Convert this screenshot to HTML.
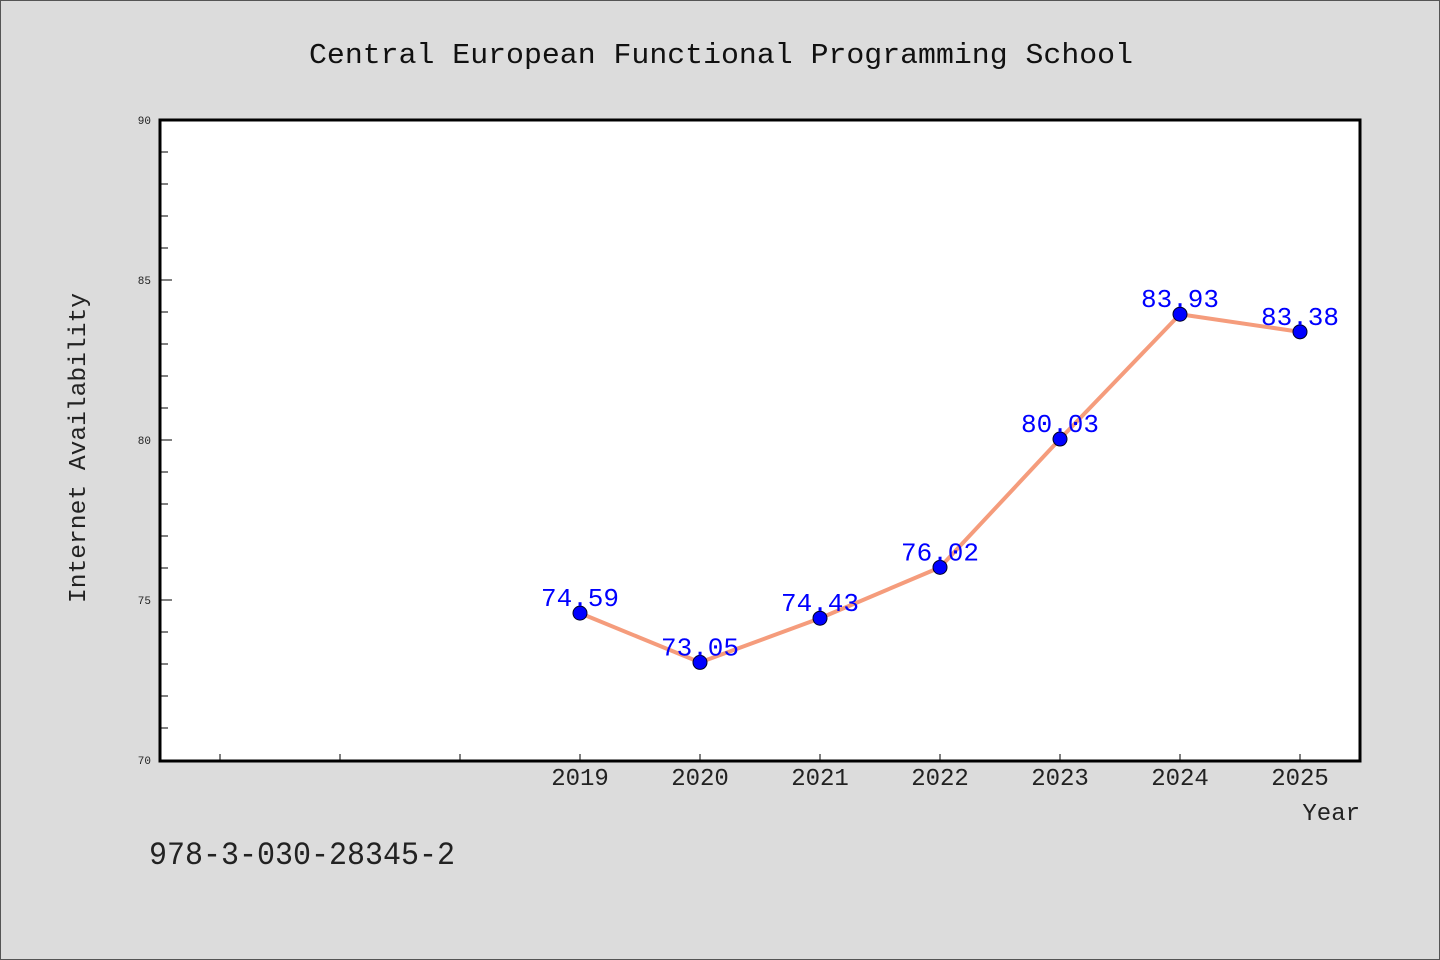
<!DOCTYPE html>
<html><head><meta charset="utf-8"><style>
body{margin:0;background:#dcdcdc;}
svg{display:block}
text{font-family:"Liberation Mono","DejaVu Sans Mono",monospace;}
</style></head><body>
<svg id="chart" width="1440" height="960" viewBox="0 0 1440 960">
<rect x="0.5" y="0.5" width="1439" height="959" fill="#dcdcdc" stroke="#555" stroke-width="1"/>
<text x="721" y="63" font-size="29" text-anchor="middle" fill="#111" textLength="824" lengthAdjust="spacingAndGlyphs">Central European Functional Programming School</text>
<rect x="160" y="120" width="1200" height="641" fill="#fff"/>
<g id="ticks"></g>
<g id="series"></g>
<rect x="160" y="120" width="1200" height="641" fill="none" stroke="#000" stroke-width="3"/>
<text transform="translate(85,448) rotate(-90)" font-size="24" text-anchor="middle" fill="#222" textLength="310" lengthAdjust="spacingAndGlyphs">Internet Availability</text>
<text x="1360" y="820" font-size="24" text-anchor="end" fill="#222">Year</text>
<text x="149" y="864" font-size="32" fill="#222" textLength="306" lengthAdjust="spacingAndGlyphs">978-3-030-28345-2</text>
</svg>
<script>
const years=[2019,2020,2021,2022,2023,2024,2025];
const values=[74.59,73.05,74.43,76.02,80.03,83.93,83.38];
const valueLabels=["74.59","73.05","74.43","76.02","80.03","83.93","83.38"];
const yTickLabels=["70","75","80","85","90"];
const xTickYears=[2016,2017,2018,2019,2020,2021,2022,2023,2024,2025];
const NS="http://www.w3.org/2000/svg";
const x=v=>220+(v-2016)*120;
const y=v=>760-(v-70)*32;
function mk(t,a,p){const e=document.createElementNS(NS,t);for(const k in a)e.setAttribute(k,a[k]);p.appendChild(e);return e;}
const tg=document.getElementById('ticks'),sg=document.getElementById('series');
for(let v=71;v<90;v++){if(v%5===0)continue;const l=mk('line',{x1:160,x2:168,y1:y(v),y2:y(v),stroke:'#000','stroke-width':1},tg);

}
yTickLabels.forEach(s=>{const v=+s;const l=mk('line',{x1:160,x2:172,y1:y(v),y2:y(v),stroke:'#000','stroke-width':1},tg);


const t=mk('text',{x:151,y:y(v)+4,'font-size':11,'text-anchor':'end',fill:'#222'},tg);t.textContent=s;

});
xTickYears.forEach(v=>{const l=mk('line',{x1:x(v),x2:x(v),y1:760,y2:754,stroke:'#000','stroke-width':1},tg);


if(years.includes(v)){const t=mk('text',{x:x(v),y:785,'font-size':24,'text-anchor':'middle',fill:'#222'},tg);t.textContent=String(v);

}});
const pl=mk('polyline',{points:years.map((yr,i)=>x(yr)+','+y(values[i])).join(' '),fill:'none',stroke:'#f59c7c','stroke-width':4,'stroke-linejoin':'round'},sg);


years.forEach((yr,i)=>{const c=mk('circle',{cx:x(yr),cy:y(values[i]),r:7,fill:'#0000ff',stroke:'#002','stroke-width':1},sg);


const t=mk('text',{x:x(yr),y:y(values[i])-7,'font-size':26,'text-anchor':'middle',fill:'#0000ff'},sg);t.textContent=valueLabels[i];

});
</script>
</body></html>
